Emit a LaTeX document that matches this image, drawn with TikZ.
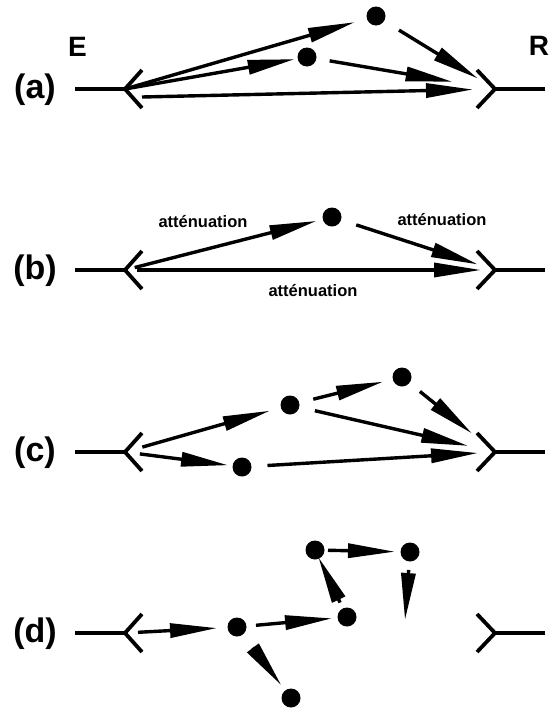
\documentclass[tikz,border=0pt]{standalone}
\usepackage{fontspec}
\setmainfont{Liberation Sans}
\usetikzlibrary{arrows.meta}
\begin{document}
\begin{tikzpicture}[x=1pt,y=-1pt,
  base/.style={line width=3.8pt,line cap=butt,line join=miter},
  arr/.style={line width=3.4pt,line cap=butt,-{Triangle[length=47pt,width=14pt]}},
  dot/.style={circle,fill=black,inner sep=0pt,minimum size=19pt,outer sep=0pt},
  rowlab/.style={inner sep=0pt,font=\bfseries\fontsize{34}{34}\selectfont},
  endlab/.style={inner sep=0pt,font=\bfseries\fontsize{28}{28}\selectfont},
  attn/.style={inner sep=0pt,font=\bfseries\fontsize{16.5}{16.5}\selectfont}]
\useasboundingbox (0,0) rectangle (550,710);
% labels E and R
\node[endlab] (labE) at (77.5,47) {E};
\node[endlab] (labR) at (539,46) {R};
% rows
\foreach \r/\y in {a/89,b/270,c/452,d/633}{
  \node[rowlab] (lab\r) at (35,\y+1) {(\r)};
  \coordinate (E\r) at (125,\y);
  \coordinate (R\r) at (495,\y);
  \coordinate (El\r) at (75,\y);
  \coordinate (Rl\r) at (545,\y);
  \coordinate (Eu\r) at (142,\y-19);
  \coordinate (Ed\r) at (142,\y+19);
  \coordinate (Ru\r) at (477,\y-19);
  \coordinate (Rd\r) at (477,\y+19);
  \draw[base] (El\r) -- (E\r);
  \draw[base] (Eu\r) -- (E\r) -- (Ed\r);
  \draw[base] (Rl\r) -- (R\r);
  \draw[base] (Ru\r) -- (R\r) -- (Rd\r);
}
% ---------- (a)
\node[dot] (at) at (376,16) {};
\node[dot] (am) at (307,57) {};
\coordinate (as) at (142,97);
\draw[arr,shorten <=2pt,shorten >=22pt] (Ea) -- (at.center);
\draw[arr,shorten <=2pt,shorten >=12.5pt] (Ea) -- (am.center);
\draw[arr,shorten <=27pt,shorten >=20pt] (at.center) -- (Ra);
\draw[arr,shorten <=23pt,shorten >=43pt] (am.center) -- (Ra);
\draw[arr,shorten >=22pt] (as) -- (Ra);
% ---------- (b)
\node[dot] (bd) at (332,217) {};
\draw[arr,shorten <=10pt,shorten >=16pt] (Eb) -- (bd.center);
\draw[arr,shorten <=25.5pt,shorten >=18pt] (bd.center) -- (Rb);
\draw[arr,shorten <=12pt,shorten >=14pt] (Eb) -- (Rb);
\node[attn] (t1) at (203,221.5) {atténuation};
\node[attn] (t2) at (442,220) {atténuation};
\node[attn] (t3) at (313,291) {atténuation};
% ---------- (c)
\node[dot] (cp) at (290,405) {};
\node[dot] (cq) at (402,377) {};
\node[dot] (cs) at (242,467) {};
\draw[arr,shorten <=18pt,shorten >=21pt] (Ec) -- (cp.center);
\draw[arr,shorten <=15pt,shorten >=14pt] (Ec) -- (cs.center);
\draw[arr,shorten <=24pt,shorten >=19.5pt] (cp.center) -- (cq.center);
\draw[arr,shorten <=25.5pt,shorten >=27.5pt] (cp.center) -- (Rc);
\draw[arr,shorten <=23pt,shorten >=29.5pt] (cq.center) -- (Rc);
\draw[arr,shorten <=25.5pt,shorten >=17pt] (cs.center) -- (Rc);
% ---------- (d)
\node[dot] (dA) at (237,627) {};
\node[dot] (dB) at (347,617) {};
\node[dot] (dC) at (315,550) {};
\node[dot] (dD) at (410,552) {};
\node[dot] (dE) at (291,698) {};
\coordinate (dEnd) at (405,620);
\draw[arr,shorten <=13pt,shorten >=20pt] (Ed) -- (dA.center);
\draw[arr,shorten <=19pt,shorten >=15pt] (dA.center) -- (dB.center);
\draw[arr,shorten <=16pt,shorten >=8pt] (dB.center) -- (dC.center);
\draw[arr,shorten <=13pt,shorten >=15pt] (dC.center) -- (dD.center);
\draw[arr,shorten <=18pt] (dD.center) -- (dEnd);
\draw[arr,shorten <=26pt,shorten >=16pt] (dA.center) -- (dE.center);
\end{tikzpicture}
\end{document}
